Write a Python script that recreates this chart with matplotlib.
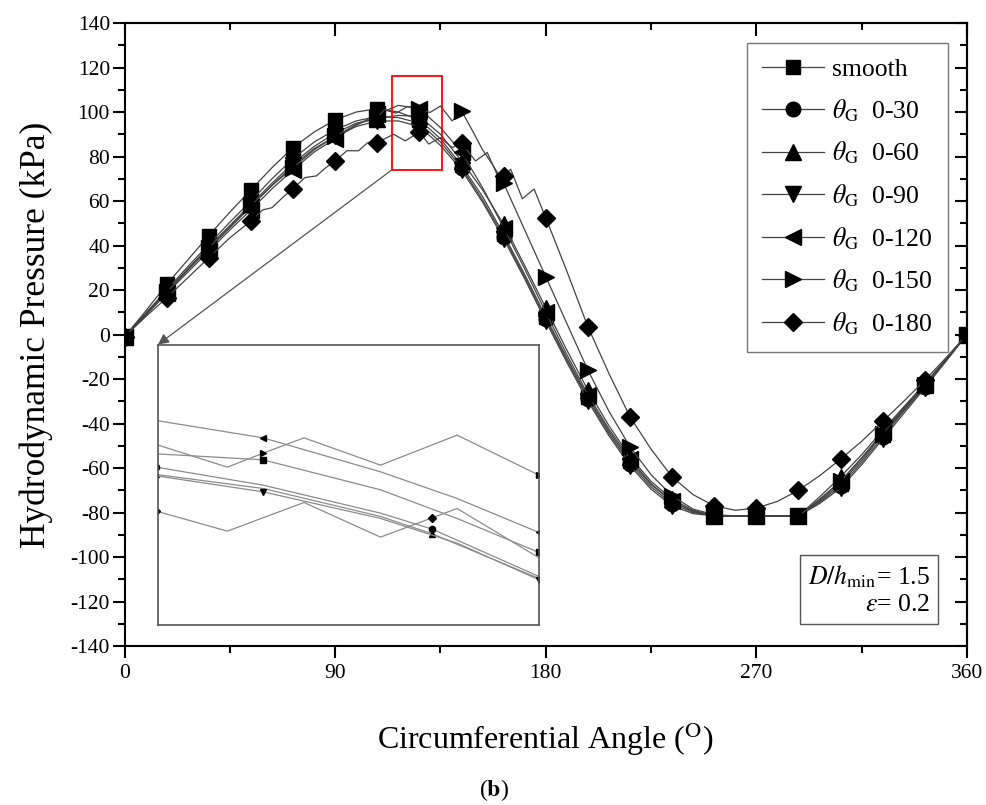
import numpy as np
import matplotlib
matplotlib.use("Agg")
import matplotlib.pyplot as plt
from matplotlib.patches import Rectangle
from matplotlib.ticker import MultipleLocator

plt.rcParams['font.family'] = ['Liberation Serif', 'DejaVu Serif']
plt.rcParams['mathtext.fontset'] = 'stix'
plt.rcParams['axes.unicode_minus'] = False

# pressure (kPa) vs circumferential angle (deg), 9 deg grid
angles = np.arange(0, 361, 9)
p_smooth = [-1, 10.5, 22.5, 33.5, 44.5, 55, 65, 75, 84, 91, 96.5, 100, 101.5, 100, 96.5, 88, 76, 62, 45, 27,
            8, -10.5, -28, -43.5, -57, -67.5, -75, -79.5, -81.5, -81.5, -81.5, -81.5, -81.5, -75, -67, -56.5,
            -45, -34, -23, -11.5, 0]
p_030 = [-1, 9.5, 20, 30.5, 40.5, 50.5, 60, 70, 79, 86.5, 92, 96, 98, 97.5, 95, 86.5, 75, 60.5, 44, 26,
         7, -11.5, -29, -44.5, -58, -68.5, -76, -80, -81.5, -81.5, -81.5, -81.5, -81.5, -75.5, -68, -57.5,
         -46, -34.5, -23.5, -12, 0]
p_060 = [-1, 9.5, 19.5, 29.5, 39.5, 49, 58.5, 68, 77, 84.5, 90.5, 95, 97, 98.5, 98, 90, 78, 65, 49.5, 31,
         12, -7, -25, -41, -55, -66, -74, -79, -81.5, -81.5, -81.5, -81.5, -81.5, -73, -64, -54,
         -43, -32.5, -22, -11, 0]
p_090 = [-1, 9, 19, 29, 38.5, 48, 57.5, 67, 76, 83.5, 89, 93.5, 96, 96, 93.5, 85, 74, 59.5, 43, 25,
         6, -12.5, -30, -45.5, -59, -69.5, -77, -80.5, -81.5, -81.5, -81.5, -81.5, -81.5, -76, -69, -58.5,
         -47, -35.5, -24, -12, 0]
p_120 = [-1, 8.5, 18.5, 28, 37.5, 47, 56, 65.5, 74, 82, 88, 94, 99, 103, 101.5, 93, 82, 66, 48, 29.5,
         10, -9, -27, -42.5, -56, -67, -75, -79.5, -81.5, -81.5, -81.5, -81.5, -81.5, -74, -66, -55.5,
         -44, -33, -22.5, -11.5, 0]

# grooved cases with the step pattern need a finer angle list
ang_150 = [0, 9, 18, 27, 36, 45, 54, 63, 72, 81, 90, 99, 108, 111, 116, 121, 126, 130.5, 135, 140,
           144, 149, 153, 157.5, 162, 171, 180, 189, 198, 207, 216, 225, 234, 243, 252, 261, 270, 279, 288, 297,
           306, 315, 324, 333, 342, 351, 360]
p_150 = [-1, 9, 19, 29, 39, 48.5, 58, 67, 75, 83, 89, 94.5, 97.5, 101, 99.5, 102.5, 101.5, 99.8, 102.7, 96,
         100.5, 91, 83, 76, 68, 47, 26, 5, -16, -34.5, -50.5, -63, -72.5, -78.5, -81, -81.5, -81.5, -81.5, -81.5, -74.5,
         -66, -55.5, -44.5, -33.5, -22.5, -11.5, 0]
ang_180 = [0, 9, 18, 27, 36, 45, 54, 59, 63, 68, 72, 77, 82, 86, 90, 95, 100, 104, 108, 115,
           120, 126, 130, 135, 140, 144, 150, 155, 160, 162, 165, 170, 175, 180, 189, 198, 207, 216, 225, 234,
           243, 252, 261, 270, 279, 288, 297, 306, 315, 324, 333, 342, 351, 360]
p_180 = [-1, 8, 16.5, 25.5, 34.5, 43.5, 51, 56, 57, 62, 65.5, 70.5, 71.3, 75, 78, 82.6, 82.6, 86.3, 86.3, 90,
         87, 91, 85.6, 88.5, 84, 86, 78, 81.8, 70, 71.3, 74.3, 61, 65.4, 52.5, 28.5, 3.5, -17.5, -37, -51.5, -64,
         -72, -77, -79, -78, -75, -70, -63.5, -56, -48, -39, -30, -20.5, -10.5, 0]

labels = ['smooth', r'$\theta_{\rm G}$  0-30', r'$\theta_{\rm G}$  0-60', r'$\theta_{\rm G}$  0-90',
          r'$\theta_{\rm G}$  0-120', r'$\theta_{\rm G}$  0-150', r'$\theta_{\rm G}$  0-180']
markers = ['s', 'o', '^', 'v', '<', '>', 'D']
sizes = [10, 10.5, 11, 11, 11, 11, 9.5]

# detail window (zoom box) and its curves
zoom_x = (114.1, 135.5)
zoom_y = (73.9, 116.0)
ins_x5 = [114, 120, 126.6, 130.9, 135.5]
ins_x5b = [114, 120, 126.6, 129.5, 135.5]
ins_x7 = [114, 118.0, 120.0, 122.3, 126.6, 130.9, 135.5]
ins_x7b = [114, 118.0, 122.3, 126.6, 129.5, 130.9, 135.5]
ins_smooth = [99.6, 98.7, 94.2, 89.9, 84.8]
ins_030 = [97.6, 94.9, 90.7, 88.3, 81.2]
ins_060 = [96.5, 94.4, 90.2, 87.6, 80.9]
ins_090 = [96.3, 93.9, 89.9, 86.2, 80.7]
ins_120 = [104.6, 102.0, 96.9, 92.9, 87.8]
ins_150 = [101.0, 97.6, 99.7, 102.0, 97.9, 102.4, 96.4]
ins_180 = [91.0, 88.0, 92.3, 87.1, 90.0, 91.4, 84.0]

fig = plt.figure(figsize=(9.87, 8.05), dpi=100)
ax = fig.add_axes([0.1262, 0.1975, 0.8535, 0.7739])

series = [(angles, p_smooth), (angles, p_030), (angles, p_060), (angles, p_090),
          (angles, p_120), (ang_150, p_150), (ang_180, p_180)]
line_col = '#444444'
for (a, p), m, s, lab in zip(series, markers, sizes, labels):
    a = np.asarray(a, dtype=float)
    every = np.isclose(np.mod(a, 18), 0)
    ax.plot(a, p, color=line_col, lw=0.9, marker=m, ms=s, mfc='k', mec='k',
            markevery=list(every), label=lab, zorder=3)

ax.set_xlim(0, 360)
ax.set_ylim(-140, 140)
ax.xaxis.set_major_locator(MultipleLocator(90))
ax.xaxis.set_minor_locator(MultipleLocator(45))
ax.yaxis.set_major_locator(MultipleLocator(20))
ax.yaxis.set_minor_locator(MultipleLocator(10))
ax.tick_params(which='both', direction='out', width=1.5, labelsize=15.5, top=False, right=False)
ax.tick_params(which='major', length=8.5)
ax.tick_params(which='minor', length=5)
ax.tick_params(axis='y', pad=2)
ax.tick_params(axis='x', pad=4.5)
for sp in ax.spines.values():
    sp.set_linewidth(1.5)

# inward ticks on the right and top frame
sec_y = ax.secondary_yaxis('right')
sec_y.yaxis.set_major_locator(MultipleLocator(20))
sec_y.yaxis.set_minor_locator(MultipleLocator(10))
sec_y.tick_params(which='both', direction='in', width=1.5, labelright=False)
sec_y.tick_params(which='major', length=8.5)
sec_y.tick_params(which='minor', length=5)
sec_y.spines['right'].set_linewidth(1.5)
sec_x = ax.secondary_xaxis('top')
sec_x.xaxis.set_major_locator(MultipleLocator(90))
sec_x.xaxis.set_minor_locator(MultipleLocator(45))
sec_x.tick_params(which='both', direction='in', width=1.5, labeltop=False)
sec_x.tick_params(which='major', length=9.5)
sec_x.tick_params(which='minor', length=5)
sec_x.spines['top'].set_linewidth(1.5)

ax.set_xlabel(r'Circumferential Angle ($^{\rm O}$)', fontsize=23)
ax.set_ylabel('Hydrodynamic Pressure (kPa)', fontsize=25.5)
ax.xaxis.set_label_coords(0.5, -0.12)
ax.yaxis.set_label_coords(-0.085, 0.5)

leg = ax.legend(loc='upper left', bbox_to_anchor=(0.7389, 0.9679), borderaxespad=0,
                fontsize=18.5, handlelength=2.4, handletextpad=0.3, labelspacing=0.62,
                borderpad=0.6, frameon=True, fancybox=False, numpoints=1)
leg.get_frame().set_edgecolor('#555555')
leg.get_frame().set_linewidth(1.0)

ax.text(0.956, 0.048, r'$D/h_{\rm min}$= 1.5' + '\n' + r'$\varepsilon$= 0.2',
        transform=ax.transAxes, ha='right', va='bottom', multialignment='right', fontsize=18.5,
        linespacing=1.25,
        bbox=dict(boxstyle='square,pad=0.3', fc='white', ec='#555555', lw=1.0))

# zoom box, leader arrow and detail window
ax.add_patch(Rectangle((zoom_x[0], zoom_y[0]), zoom_x[1] - zoom_x[0], zoom_y[1] - zoom_y[0],
                       fill=False, ec='red', lw=1.3, zorder=6))
ins_left, ins_bottom, ins_w, ins_h = 14.3, -130.6, 162.8, 126.1
ax.annotate('', xy=(ins_left, ins_bottom + ins_h), xytext=(zoom_x[0], zoom_y[0]),
            arrowprops=dict(arrowstyle='-|>', color='#555555', lw=0.9, mutation_scale=16,
                            shrinkA=0, shrinkB=0), zorder=4)
ins = ax.inset_axes([ins_left, ins_bottom, ins_w, ins_h], transform=ax.transData)
ins_series = [(ins_x5, ins_smooth, 's', [1, 4]), (ins_x5b, ins_030, 'o', [0, 3]),
              (ins_x5b, ins_060, '^', [0, 3]), (ins_x5, ins_090, 'v', [1, 4]),
              (ins_x5, ins_120, '<', [1, 4]), (ins_x7, ins_150, '>', [2, 6]),
              (ins_x7b, ins_180, 'D', [0, 4])]
for x, y, m, idx in ins_series:
    ins.plot(x, y, color='#8c8c8c', lw=0.9, marker=m, ms=4.5, mfc='k', mec='k', markevery=idx)
ins.set_xlim(*zoom_x)
ins.set_ylim(*zoom_y)
ins.set_xticks([])
ins.set_yticks([])
for sp in ins.spines.values():
    sp.set_linewidth(1.2)
    sp.set_edgecolor('#555555')

fig.text(0.5, 1 - 790 / 805, r'($\mathbf{b}$)', ha='center', va='center', fontsize=17)

fig.savefig('out.png', dpi=100)
